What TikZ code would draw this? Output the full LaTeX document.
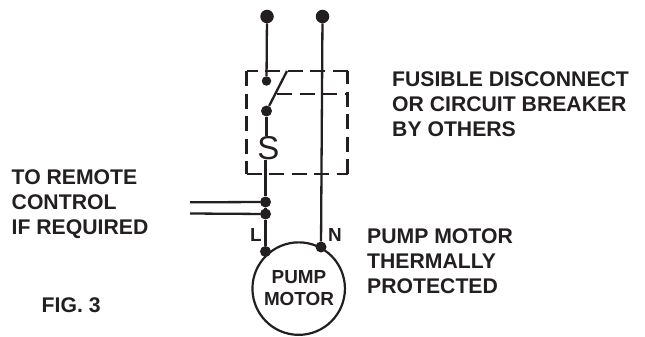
\documentclass[tikz,border=0pt]{standalone}
\usepackage{fontspec}
\setmainfont{Liberation Sans}
\definecolor{ink}{HTML}{231F20}
\tikzset{
  wire/.style={draw=ink,line width=2.3pt},
  dashline/.style={draw=ink,line width=2.2pt,dash pattern=on 15pt off 7.5pt},
  dotbig/.style={circle,fill=ink,inner sep=0pt,minimum size=13.5pt},
  dotmid/.style={circle,fill=ink,inner sep=0pt,minimum size=11pt},
  dotsmall/.style={circle,fill=ink,inner sep=0pt,minimum size=9.5pt},
  lbl/.style={font=\fontsize{21.2pt}{25.2pt}\selectfont\bfseries,text=ink,align=left,anchor=north west,inner sep=0pt},
  motorlbl/.style={font=\fontsize{18.9pt}{22pt}\selectfont\bfseries,text=ink,align=center,inner sep=0pt},
}
\begin{document}
\begin{tikzpicture}[x=1pt,y=-1pt]
\useasboundingbox (0,0) rectangle (645,337);
% dashed enclosure
\coordinate (bTL) at (246.5,71);
\coordinate (bTR) at (347.5,71);
\coordinate (bBR) at (347.5,174);
\coordinate (bBL) at (246.5,174);
\coordinate (mL) at (277,94);
\coordinate (mR) at (347.5,94);
\draw[dashline] (bTR) -- (bTL);
\draw[dashline] (bTL) -- (bBL);
\draw[dashline] (bBL) -- (bBR);
\draw[dashline] (bBR) -- (bTR);
\draw[dashline] (mL) -- (mR);
% nodes
\node[dotbig] (t1) at (267,16.5) {};
\node[dotbig] (t2) at (322.5,16.5) {};
\node[dotsmall] (s1) at (266.5,81) {};
\node[dotmid] (s2) at (266.5,111) {};
\coordinate (s3) at (287,71);
\node[inner sep=0pt,font=\fontsize{33pt}{33pt}\selectfont,text=ink] (S) at (268.5,148) {S};
\node[dotmid] (r1) at (265.5,202) {};
\node[dotmid] (r2) at (265.5,214) {};
\node[circle,draw=ink,line width=2.2pt,minimum size=92.5pt,inner sep=0pt] (M) at (298.7,288.6) {};
\node[dotmid] (mL1) at (265.5,251.5) {};
\node[dotmid] (mN1) at (321,247) {};
\coordinate (c1) at (190,202.3);
\coordinate (c2) at (190,213.5);
% wires
\draw[wire] (t1) -- (s1);
\draw[wire] (s2) -- (s3);
\draw[wire] (s2) -- (S.north -| s2);
\draw[wire] (S.south -| r1) -- (r1);
\draw[wire] (r1) -- (r2);
\draw[wire] (r2) -- (mL1);
\draw[wire] (t2) -- (mN1);
\draw[wire] (c1) -- (r1);
\draw[wire] (c2) -- (r2);
% labels
\node[motorlbl] (mt) at (299,288.3) {PUMP\\MOTOR};
\node[motorlbl,anchor=north west] (ll) at (250,228) {L};
\node[motorlbl,anchor=north west] (ln) at (328,228) {N};
\node[lbl] (a) at (392,71.5) {FUSIBLE DISCONNECT\\OR CIRCUIT BREAKER\\BY OTHERS};
\node[lbl] (b) at (11.5,169) {TO REMOTE\\CONTROL\\IF REQUIRED};
\node[lbl] (c) at (367,228) {PUMP MOTOR\\THERMALLY\\PROTECTED};
\node[lbl] (d) at (41.5,297) {FIG. 3};
\end{tikzpicture}
\end{document}
